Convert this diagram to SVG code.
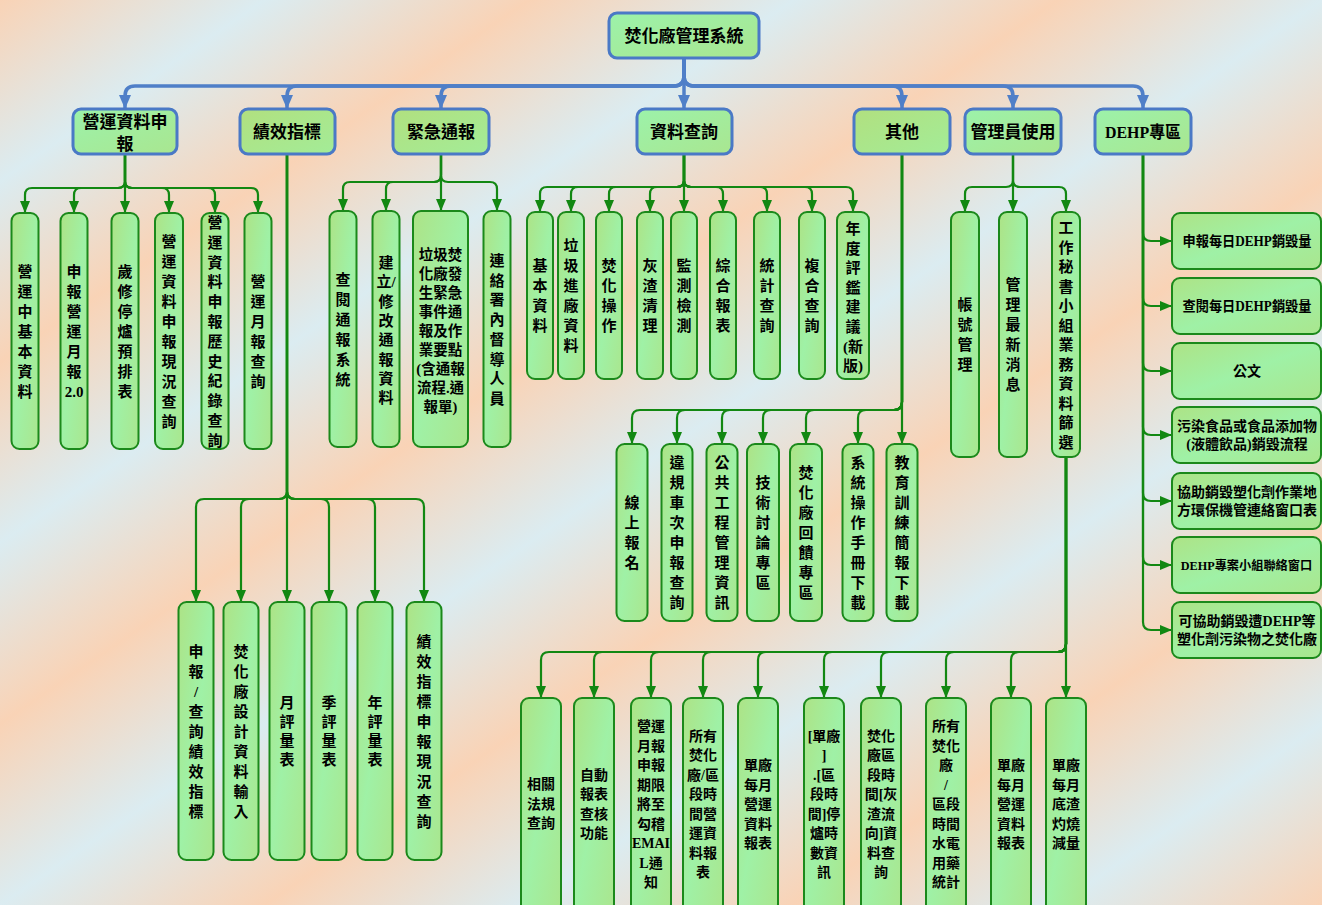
<svg xmlns="http://www.w3.org/2000/svg" width="1322" height="905" viewBox="0 0 1322 905">
<defs>
  <linearGradient id="bg" x1="0" y1="0" x2="0.2" y2="0.2" spreadMethod="repeat">
    <stop offset="0" stop-color="#f9d3b6"/>
    <stop offset="0.5" stop-color="#dbecf1"/>
    <stop offset="1" stop-color="#f9d3b6"/>
  </linearGradient>
  <linearGradient id="gMint" x1="0" y1="0" x2="1" y2="1">
    <stop offset="0" stop-color="#9cf2aa"/>
    <stop offset="1" stop-color="#a9e690"/>
  </linearGradient>
  <linearGradient id="gLime" x1="0" y1="0" x2="1" y2="1">
    <stop offset="0" stop-color="#b1e07f"/>
    <stop offset="1" stop-color="#a3ec98"/>
  </linearGradient>
  <linearGradient id="gBox" x1="0" y1="0" x2="1" y2="1">
    <stop offset="0" stop-color="#ade386"/>
    <stop offset="0.5" stop-color="#9ff1a6"/>
    <stop offset="1" stop-color="#aae68e"/>
  </linearGradient>
  <marker id="ab" viewBox="0 0 14 12" refX="13" refY="6" markerWidth="14" markerHeight="12" markerUnits="userSpaceOnUse" orient="auto">
    <path d="M0,0 L14,6 L0,12 z" fill="#4f7fc8"/>
  </marker>
  <marker id="ag" viewBox="0 0 12 10" refX="11" refY="5" markerWidth="12" markerHeight="10" markerUnits="userSpaceOnUse" orient="auto">
    <path d="M0,0 L12,5 L0,10 z" fill="#128812"/>
  </marker>
</defs>
<style>
  .l1 { fill: url(#gMint); stroke: #4a79c6; stroke-width: 3; }
  .l1y { fill: url(#gLime); stroke: #4a79c6; stroke-width: 3; }
  .bx { fill: url(#gBox); stroke: #1b891b; stroke-width: 2; }
  .cb { fill: none; stroke: #4f7fc8; stroke-width: 3.5; marker-end: url(#ab); }
  .cg { fill: none; stroke: #128812; stroke-width: 2.2; marker-end: url(#ag); }
  text { font-family: "Liberation Serif", "Noto Sans CJK TC", sans-serif; font-weight: 700; fill: #000; text-anchor: middle; }
  .t17 { font-size: 17px; }
  .t15 { font-size: 15px; }
  .t145 { font-size: 14.5px; }
  .t14 { font-size: 14px; }
  .t12 { font-size: 12.2px; }
</style>

<rect x="0" y="0" width="1322" height="905" fill="url(#bg)"/>

<!-- connectors -->
<g id="connectors">
  <!-- root to sections -->
  <path class="cb" d="M684,59 V76 Q684,86 674,86 H135 Q125,86 125,96 V108"/>
  <path class="cb" d="M684,59 V76 Q684,86 674,86 H297 Q287,86 287,96 V108"/>
  <path class="cb" d="M684,59 V76 Q684,86 674,86 H451 Q441,86 441,96 V108"/>
  <path class="cb" d="M684,59 V108"/>
  <path class="cb" d="M684,59 V76 Q684,86 694,86 H892 Q902,86 902,96 V108"/>
  <path class="cb" d="M684,59 V76 Q684,86 694,86 H1003 Q1013,86 1013,96 V108"/>
  <path class="cb" d="M684,59 V76 Q684,86 694,86 H1133 Q1143,86 1143,96 V108"/>

  <!-- 營運資料申報 -->
  <path class="cg" d="M125,155 V181 Q125,188 118,188 H32 Q25,188 25,195 V212"/>
  <path class="cg" d="M125,155 V181 Q125,188 118,188 H81 Q74,188 74,195 V212"/>
  <path class="cg" d="M125,155 V212"/>
  <path class="cg" d="M125,155 V181 Q125,188 132,188 H162 Q169,188 169,195 V212"/>
  <path class="cg" d="M125,155 V181 Q125,188 132,188 H208 Q215,188 215,195 V212"/>
  <path class="cg" d="M125,155 V181 Q125,188 132,188 H251 Q258,188 258,195 V212"/>

  <!-- 緊急通報 -->
  <path class="cg" d="M441,155 V175 Q441,182 434,182 H350 Q343,182 343,189 V210"/>
  <path class="cg" d="M441,155 V175 Q441,182 434,182 H393 Q386,182 386,189 V210"/>
  <path class="cg" d="M441,155 V210"/>
  <path class="cg" d="M441,155 V175 Q441,182 448,182 H490 Q497,182 497,189 V210"/>

  <!-- 績效指標 -->
  <path class="cg" d="M287,155 V491 Q287,499 279,499 H204 Q196,499 196,507 V601"/>
  <path class="cg" d="M287,155 V491 Q287,499 279,499 H249 Q241,499 241,507 V601"/>
  <path class="cg" d="M287,155 V601"/>
  <path class="cg" d="M287,155 V491 Q287,499 295,499 H321 Q329,499 329,507 V601"/>
  <path class="cg" d="M287,155 V491 Q287,499 295,499 H367 Q375,499 375,507 V601"/>
  <path class="cg" d="M287,155 V491 Q287,499 295,499 H416 Q424,499 424,507 V601"/>

  <!-- 資料查詢 -->
  <path class="cg" d="M684,155 V180 Q684,187 677,187 H547 Q540,187 540,194 V211"/>
  <path class="cg" d="M684,155 V180 Q684,187 677,187 H578 Q571,187 571,194 V211"/>
  <path class="cg" d="M684,155 V180 Q684,187 677,187 H616 Q609,187 609,194 V211"/>
  <path class="cg" d="M684,155 V180 Q684,187 677,187 H657 Q650,187 650,194 V211"/>
  <path class="cg" d="M684,155 V211"/>
  <path class="cg" d="M684,155 V180 Q684,187 691,187 H716 Q723,187 723,194 V211"/>
  <path class="cg" d="M684,155 V180 Q684,187 691,187 H760 Q767,187 767,194 V211"/>
  <path class="cg" d="M684,155 V180 Q684,187 691,187 H805 Q812,187 812,194 V211"/>
  <path class="cg" d="M684,155 V180 Q684,187 691,187 H846 Q853,187 853,194 V211"/>

  <!-- 其他 -->
  <path class="cg" d="M902,155 V402 Q902,410 894,410 H640 Q632,410 632,418 V443"/>
  <path class="cg" d="M902,155 V402 Q902,410 894,410 H685 Q677,410 677,418 V443"/>
  <path class="cg" d="M902,155 V402 Q902,410 894,410 H730 Q722,410 722,418 V443"/>
  <path class="cg" d="M902,155 V402 Q902,410 894,410 H771 Q763,410 763,418 V443"/>
  <path class="cg" d="M902,155 V402 Q902,410 894,410 H814 Q806,410 806,418 V443"/>
  <path class="cg" d="M902,155 V402 Q902,410 894,410 H866 Q858,410 858,418 V443"/>
  <path class="cg" d="M902,155 V443"/>

  <!-- 管理員使用 -->
  <path class="cg" d="M1013,155 V180 Q1013,187 1006,187 H972 Q965,187 965,194 V211"/>
  <path class="cg" d="M1013,155 V211"/>
  <path class="cg" d="M1013,155 V180 Q1013,187 1020,187 H1059 Q1066,187 1066,194 V211"/>

  <!-- 工作秘書小組業務資料篩選 -->
  <path class="cg" d="M1066,458 V644 Q1066,652 1058,652 H549 Q541,652 541,660 V697"/>
  <path class="cg" d="M1066,458 V644 Q1066,652 1058,652 H602 Q594,652 594,660 V697"/>
  <path class="cg" d="M1066,458 V644 Q1066,652 1058,652 H659 Q651,652 651,660 V697"/>
  <path class="cg" d="M1066,458 V644 Q1066,652 1058,652 H711 Q703,652 703,660 V697"/>
  <path class="cg" d="M1066,458 V644 Q1066,652 1058,652 H766 Q758,652 758,660 V697"/>
  <path class="cg" d="M1066,458 V644 Q1066,652 1058,652 H832 Q824,652 824,660 V697"/>
  <path class="cg" d="M1066,458 V644 Q1066,652 1058,652 H889 Q881,652 881,660 V697"/>
  <path class="cg" d="M1066,458 V644 Q1066,652 1058,652 H954 Q946,652 946,660 V697"/>
  <path class="cg" d="M1066,458 V644 Q1066,652 1058,652 H1019 Q1011,652 1011,660 V697"/>
  <path class="cg" d="M1066,458 V697"/>

  <!-- DEHP專區 -->
  <path class="cg" d="M1143,155 V233 Q1143,241 1151,241 H1171"/>
  <path class="cg" d="M1143,155 V298 Q1143,306 1151,306 H1171"/>
  <path class="cg" d="M1143,155 V363 Q1143,371 1151,371 H1171"/>
  <path class="cg" d="M1143,155 V427 Q1143,435 1151,435 H1171"/>
  <path class="cg" d="M1143,155 V493 Q1143,501 1151,501 H1171"/>
  <path class="cg" d="M1143,155 V557 Q1143,565 1151,565 H1171"/>
  <path class="cg" d="M1143,155 V622 Q1143,630 1151,630 H1171"/>
</g>

<!-- root -->
<g id="n-root">
  <rect class="l1" x="609" y="13" width="150" height="45" rx="8"/>
  <text class="t17" x="684" y="42">焚化廠管理系統</text>
</g>

<!-- sections -->
<g id="n-ops">
  <rect class="l1" x="73" y="109" width="104" height="45" rx="8"/>
  <text class="t17" x="125" y="128">營運資料申<tspan x="125" dy="22">報</tspan></text>
</g>
<g id="n-kpi">
  <rect class="l1y" x="240" y="109" width="95" height="45" rx="8"/>
  <text class="t17" x="287" y="138">績效指標</text>
</g>
<g id="n-alert">
  <rect class="l1y" x="393" y="109" width="96" height="45" rx="8"/>
  <text class="t17" x="441" y="138">緊急通報</text>
</g>
<g id="n-query">
  <rect class="l1" x="637" y="109" width="95" height="45" rx="8"/>
  <text class="t17" x="684" y="138">資料查詢</text>
</g>
<g id="n-other">
  <rect class="l1y" x="854" y="109" width="96" height="45" rx="8"/>
  <text class="t17" x="902" y="138">其他</text>
</g>
<g id="n-admin">
  <rect class="l1" x="965" y="109" width="96" height="45" rx="8"/>
  <text class="t17" x="1013" y="138">管理員使用</text>
</g>
<g id="n-dehp">
  <rect class="l1" x="1095" y="109" width="96" height="45" rx="8"/>
  <text class="t17" x="1143" y="138" textLength="76" lengthAdjust="spacingAndGlyphs">DEHP專區</text>
</g>

<!-- 營運資料申報 children -->
<g id="n-ops-basic">
  <rect class="bx" x="11.5" y="213" width="27" height="236" rx="8"/>
  <text class="t15" x="25" y="277">營<tspan x="25" dy="20">運</tspan><tspan x="25" dy="20">中</tspan><tspan x="25" dy="20">基</tspan><tspan x="25" dy="20">本</tspan><tspan x="25" dy="20">資</tspan><tspan x="25" dy="20">料</tspan></text>
</g>
<g id="n-ops-monthly2">
  <rect class="bx" x="60.5" y="213" width="27" height="236" rx="8"/>
  <text class="t15" x="74" y="277">申<tspan x="74" dy="20">報</tspan><tspan x="74" dy="20">營</tspan><tspan x="74" dy="20">運</tspan><tspan x="74" dy="20">月</tspan><tspan x="74" dy="20">報</tspan><tspan x="74" dy="20">2.0</tspan></text>
</g>
<g id="n-ops-outage">
  <rect class="bx" x="111.5" y="213" width="27" height="236" rx="8"/>
  <text class="t15" x="125" y="277">歲<tspan x="125" dy="20">修</tspan><tspan x="125" dy="20">停</tspan><tspan x="125" dy="20">爐</tspan><tspan x="125" dy="20">預</tspan><tspan x="125" dy="20">排</tspan><tspan x="125" dy="20">表</tspan></text>
</g>
<g id="n-ops-status">
  <rect class="bx" x="155" y="213" width="28" height="236" rx="8"/>
  <text class="t15" x="169" y="247">營<tspan x="169" dy="20">運</tspan><tspan x="169" dy="20">資</tspan><tspan x="169" dy="20">料</tspan><tspan x="169" dy="20">申</tspan><tspan x="169" dy="20">報</tspan><tspan x="169" dy="20">現</tspan><tspan x="169" dy="20">況</tspan><tspan x="169" dy="20">查</tspan><tspan x="169" dy="20">詢</tspan></text>
</g>
<g id="n-ops-history">
  <rect class="bx" x="201.5" y="213" width="27" height="236" rx="8"/>
  <text class="t15" x="215" y="228">營<tspan x="215" dy="19.8">運</tspan><tspan x="215" dy="19.8">資</tspan><tspan x="215" dy="19.8">料</tspan><tspan x="215" dy="19.8">申</tspan><tspan x="215" dy="19.8">報</tspan><tspan x="215" dy="19.8">歷</tspan><tspan x="215" dy="19.8">史</tspan><tspan x="215" dy="19.8">紀</tspan><tspan x="215" dy="19.8">錄</tspan><tspan x="215" dy="19.8">查</tspan><tspan x="215" dy="19.8">詢</tspan></text>
</g>
<g id="n-ops-monthq">
  <rect class="bx" x="244.5" y="213" width="27" height="236" rx="8"/>
  <text class="t15" x="258" y="287">營<tspan x="258" dy="20">運</tspan><tspan x="258" dy="20">月</tspan><tspan x="258" dy="20">報</tspan><tspan x="258" dy="20">查</tspan><tspan x="258" dy="20">詢</tspan></text>
</g>

<!-- 緊急通報 children -->
<g id="n-alert-view">
  <rect class="bx" x="329.5" y="211" width="27" height="236" rx="8"/>
  <text class="t15" x="343" y="285">查<tspan x="343" dy="20">閱</tspan><tspan x="343" dy="20">通</tspan><tspan x="343" dy="20">報</tspan><tspan x="343" dy="20">系</tspan><tspan x="343" dy="20">統</tspan></text>
</g>
<g id="n-alert-edit">
  <rect class="bx" x="372.5" y="211" width="27" height="236" rx="8"/>
  <text class="t15" x="386" y="268">建<tspan x="386" dy="19.3">立/</tspan><tspan x="386" dy="19.3">修</tspan><tspan x="386" dy="19.3">改</tspan><tspan x="386" dy="19.3">通</tspan><tspan x="386" dy="19.3">報</tspan><tspan x="386" dy="19.3">資</tspan><tspan x="386" dy="19.3">料</tspan></text>
</g>
<g id="n-alert-rules">
  <rect class="bx" x="413" y="211" width="55" height="236" rx="8"/>
  <text class="t145" x="440.5" y="260">垃圾焚<tspan x="440.5" dy="19">化廠發</tspan><tspan x="440.5" dy="19">生緊急</tspan><tspan x="440.5" dy="19">事件通</tspan><tspan x="440.5" dy="19">報及作</tspan><tspan x="440.5" dy="19">業要點</tspan><tspan x="440.5" dy="19">(含通報</tspan><tspan x="440.5" dy="19">流程.通</tspan><tspan x="440.5" dy="19">報單)</tspan></text>
</g>
<g id="n-alert-contact">
  <rect class="bx" x="483.5" y="211" width="27" height="236" rx="8"/>
  <text class="t15" x="497" y="266">連<tspan x="497" dy="19.7">絡</tspan><tspan x="497" dy="19.7">署</tspan><tspan x="497" dy="19.7">內</tspan><tspan x="497" dy="19.7">督</tspan><tspan x="497" dy="19.7">導</tspan><tspan x="497" dy="19.7">人</tspan><tspan x="497" dy="19.7">員</tspan></text>
</g>

<!-- 績效指標 children -->
<g id="n-kpi-report">
  <rect class="bx" x="178.5" y="602" width="35" height="258" rx="8"/>
  <text class="t15" x="196" y="657">申<tspan x="196" dy="20">報</tspan><tspan x="196" dy="20">/</tspan><tspan x="196" dy="20">查</tspan><tspan x="196" dy="20">詢</tspan><tspan x="196" dy="20">績</tspan><tspan x="196" dy="20">效</tspan><tspan x="196" dy="20">指</tspan><tspan x="196" dy="20">標</tspan></text>
</g>
<g id="n-kpi-design">
  <rect class="bx" x="223.5" y="602" width="35" height="258" rx="8"/>
  <text class="t15" x="241" y="657">焚<tspan x="241" dy="20">化</tspan><tspan x="241" dy="20">廠</tspan><tspan x="241" dy="20">設</tspan><tspan x="241" dy="20">計</tspan><tspan x="241" dy="20">資</tspan><tspan x="241" dy="20">料</tspan><tspan x="241" dy="20">輸</tspan><tspan x="241" dy="20">入</tspan></text>
</g>
<g id="n-kpi-month">
  <rect class="bx" x="269.5" y="602" width="35" height="258" rx="8"/>
  <text class="t15" x="287" y="708">月<tspan x="287" dy="19">評</tspan><tspan x="287" dy="19">量</tspan><tspan x="287" dy="19">表</tspan></text>
</g>
<g id="n-kpi-season">
  <rect class="bx" x="311.5" y="602" width="35" height="258" rx="8"/>
  <text class="t15" x="329" y="708">季<tspan x="329" dy="19">評</tspan><tspan x="329" dy="19">量</tspan><tspan x="329" dy="19">表</tspan></text>
</g>
<g id="n-kpi-year">
  <rect class="bx" x="357.5" y="602" width="35" height="258" rx="8"/>
  <text class="t15" x="375" y="708">年<tspan x="375" dy="19">評</tspan><tspan x="375" dy="19">量</tspan><tspan x="375" dy="19">表</tspan></text>
</g>
<g id="n-kpi-status">
  <rect class="bx" x="406.5" y="602" width="35" height="258" rx="8"/>
  <text class="t15" x="424" y="647">績<tspan x="424" dy="20">效</tspan><tspan x="424" dy="20">指</tspan><tspan x="424" dy="20">標</tspan><tspan x="424" dy="20">申</tspan><tspan x="424" dy="20">報</tspan><tspan x="424" dy="20">現</tspan><tspan x="424" dy="20">況</tspan><tspan x="424" dy="20">查</tspan><tspan x="424" dy="20">詢</tspan></text>
</g>

<!-- 資料查詢 children -->
<g id="n-q-basic">
  <rect class="bx" x="527" y="212" width="26" height="167" rx="8"/>
  <text class="t15" x="540" y="271">基<tspan x="540" dy="20">本</tspan><tspan x="540" dy="20">資</tspan><tspan x="540" dy="20">料</tspan></text>
</g>
<g id="n-q-intake">
  <rect class="bx" x="558" y="212" width="26" height="167" rx="8"/>
  <text class="t15" x="571" y="251">垃<tspan x="571" dy="20">圾</tspan><tspan x="571" dy="20">進</tspan><tspan x="571" dy="20">廠</tspan><tspan x="571" dy="20">資</tspan><tspan x="571" dy="20">料</tspan></text>
</g>
<g id="n-q-operate">
  <rect class="bx" x="596" y="212" width="26" height="167" rx="8"/>
  <text class="t15" x="609" y="271">焚<tspan x="609" dy="20">化</tspan><tspan x="609" dy="20">操</tspan><tspan x="609" dy="20">作</tspan></text>
</g>
<g id="n-q-ash">
  <rect class="bx" x="637" y="212" width="26" height="167" rx="8"/>
  <text class="t15" x="650" y="271">灰<tspan x="650" dy="20">渣</tspan><tspan x="650" dy="20">清</tspan><tspan x="650" dy="20">理</tspan></text>
</g>
<g id="n-q-monitor">
  <rect class="bx" x="671" y="212" width="26" height="167" rx="8"/>
  <text class="t15" x="684" y="271">監<tspan x="684" dy="20">測</tspan><tspan x="684" dy="20">檢</tspan><tspan x="684" dy="20">測</tspan></text>
</g>
<g id="n-q-report">
  <rect class="bx" x="710" y="212" width="26" height="167" rx="8"/>
  <text class="t15" x="723" y="271">綜<tspan x="723" dy="20">合</tspan><tspan x="723" dy="20">報</tspan><tspan x="723" dy="20">表</tspan></text>
</g>
<g id="n-q-stats">
  <rect class="bx" x="754" y="212" width="26" height="167" rx="8"/>
  <text class="t15" x="767" y="271">統<tspan x="767" dy="20">計</tspan><tspan x="767" dy="20">查</tspan><tspan x="767" dy="20">詢</tspan></text>
</g>
<g id="n-q-combo">
  <rect class="bx" x="799" y="212" width="26" height="167" rx="8"/>
  <text class="t15" x="812" y="271">複<tspan x="812" dy="20">合</tspan><tspan x="812" dy="20">查</tspan><tspan x="812" dy="20">詢</tspan></text>
</g>
<g id="n-q-annual">
  <rect class="bx" x="837" y="212" width="32" height="167" rx="8"/>
  <text class="t15" x="853" y="234">年<tspan x="853" dy="19.6">度</tspan><tspan x="853" dy="19.6">評</tspan><tspan x="853" dy="19.6">鑑</tspan><tspan x="853" dy="19.6">建</tspan><tspan x="853" dy="19.6">議</tspan><tspan x="853" dy="19.6">(新</tspan><tspan x="853" dy="19.6">版)</tspan></text>
</g>

<!-- 其他 children -->
<g id="n-o-signup">
  <rect class="bx" x="616.5" y="444" width="31" height="177" rx="8"/>
  <text class="t15" x="632" y="508">線<tspan x="632" dy="20">上</tspan><tspan x="632" dy="20">報</tspan><tspan x="632" dy="20">名</tspan></text>
</g>
<g id="n-o-violation">
  <rect class="bx" x="661.5" y="444" width="31" height="177" rx="8"/>
  <text class="t15" x="677" y="468">違<tspan x="677" dy="20">規</tspan><tspan x="677" dy="20">車</tspan><tspan x="677" dy="20">次</tspan><tspan x="677" dy="20">申</tspan><tspan x="677" dy="20">報</tspan><tspan x="677" dy="20">查</tspan><tspan x="677" dy="20">詢</tspan></text>
</g>
<g id="n-o-public">
  <rect class="bx" x="706.5" y="444" width="31" height="177" rx="8"/>
  <text class="t15" x="722" y="468">公<tspan x="722" dy="20">共</tspan><tspan x="722" dy="20">工</tspan><tspan x="722" dy="20">程</tspan><tspan x="722" dy="20">管</tspan><tspan x="722" dy="20">理</tspan><tspan x="722" dy="20">資</tspan><tspan x="722" dy="20">訊</tspan></text>
</g>
<g id="n-o-tech">
  <rect class="bx" x="747" y="444" width="32" height="177" rx="8"/>
  <text class="t15" x="763" y="488">技<tspan x="763" dy="20">術</tspan><tspan x="763" dy="20">討</tspan><tspan x="763" dy="20">論</tspan><tspan x="763" dy="20">專</tspan><tspan x="763" dy="20">區</tspan></text>
</g>
<g id="n-o-feedback">
  <rect class="bx" x="790" y="444" width="32" height="177" rx="8"/>
  <text class="t15" x="806" y="478">焚<tspan x="806" dy="20">化</tspan><tspan x="806" dy="20">廠</tspan><tspan x="806" dy="20">回</tspan><tspan x="806" dy="20">饋</tspan><tspan x="806" dy="20">專</tspan><tspan x="806" dy="20">區</tspan></text>
</g>
<g id="n-o-manual">
  <rect class="bx" x="842.5" y="444" width="31" height="177" rx="8"/>
  <text class="t15" x="858" y="468">系<tspan x="858" dy="20">統</tspan><tspan x="858" dy="20">操</tspan><tspan x="858" dy="20">作</tspan><tspan x="858" dy="20">手</tspan><tspan x="858" dy="20">冊</tspan><tspan x="858" dy="20">下</tspan><tspan x="858" dy="20">載</tspan></text>
</g>
<g id="n-o-training">
  <rect class="bx" x="886.5" y="444" width="31" height="177" rx="8"/>
  <text class="t15" x="902" y="468">教<tspan x="902" dy="20">育</tspan><tspan x="902" dy="20">訓</tspan><tspan x="902" dy="20">練</tspan><tspan x="902" dy="20">簡</tspan><tspan x="902" dy="20">報</tspan><tspan x="902" dy="20">下</tspan><tspan x="902" dy="20">載</tspan></text>
</g>

<!-- 管理員使用 children -->
<g id="n-a-account">
  <rect class="bx" x="951" y="212" width="28" height="245" rx="8"/>
  <text class="t15" x="965" y="310">帳<tspan x="965" dy="20">號</tspan><tspan x="965" dy="20">管</tspan><tspan x="965" dy="20">理</tspan></text>
</g>
<g id="n-a-news">
  <rect class="bx" x="999" y="212" width="28" height="245" rx="8"/>
  <text class="t15" x="1013" y="290">管<tspan x="1013" dy="20">理</tspan><tspan x="1013" dy="20">最</tspan><tspan x="1013" dy="20">新</tspan><tspan x="1013" dy="20">消</tspan><tspan x="1013" dy="20">息</tspan></text>
</g>
<g id="n-a-secretary">
  <rect class="bx" x="1052" y="212" width="28" height="245" rx="8"/>
  <text class="t15" x="1066" y="233">工<tspan x="1066" dy="19.5">作</tspan><tspan x="1066" dy="19.5">秘</tspan><tspan x="1066" dy="19.5">書</tspan><tspan x="1066" dy="19.5">小</tspan><tspan x="1066" dy="19.5">組</tspan><tspan x="1066" dy="19.5">業</tspan><tspan x="1066" dy="19.5">務</tspan><tspan x="1066" dy="19.5">資</tspan><tspan x="1066" dy="19.5">料</tspan><tspan x="1066" dy="19.5">篩</tspan><tspan x="1066" dy="19.5">選</tspan></text>
</g>

<!-- 工作秘書小組業務資料篩選 children -->
<g id="n-s-laws">
  <rect class="bx" x="521" y="698" width="40" height="214" rx="8"/>
  <text class="t14" x="541" y="789">相關<tspan x="541" dy="19.5">法規</tspan><tspan x="541" dy="19.5">查詢</tspan></text>
</g>
<g id="n-s-audit">
  <rect class="bx" x="574" y="698" width="40" height="214" rx="8"/>
  <text class="t14" x="594" y="779.5">自動<tspan x="594" dy="19.5">報表</tspan><tspan x="594" dy="19.5">查核</tspan><tspan x="594" dy="19.5">功能</tspan></text>
</g>
<g id="n-s-email">
  <rect class="bx" x="631" y="698" width="40" height="214" rx="8"/>
  <text class="t14" x="651" y="731">營運<tspan x="651" dy="19.5">月報</tspan><tspan x="651" dy="19.5">申報</tspan><tspan x="651" dy="19.5">期限</tspan><tspan x="651" dy="19.5">將至</tspan><tspan x="651" dy="19.5">勾稽</tspan><tspan x="651" dy="19.5">EMAI</tspan><tspan x="651" dy="19.5">L通</tspan><tspan x="651" dy="19.5">知</tspan></text>
</g>
<g id="n-s-allops">
  <rect class="bx" x="683" y="698" width="40" height="214" rx="8"/>
  <text class="t14" x="703" y="740.5">所有<tspan x="703" dy="19.5">焚化</tspan><tspan x="703" dy="19.5">廠/區</tspan><tspan x="703" dy="19.5">段時</tspan><tspan x="703" dy="19.5">間營</tspan><tspan x="703" dy="19.5">運資</tspan><tspan x="703" dy="19.5">料報</tspan><tspan x="703" dy="19.5">表</tspan></text>
</g>
<g id="n-s-single1">
  <rect class="bx" x="738" y="698" width="40" height="214" rx="8"/>
  <text class="t14" x="758" y="770">單廠<tspan x="758" dy="19.5">每月</tspan><tspan x="758" dy="19.5">營運</tspan><tspan x="758" dy="19.5">資料</tspan><tspan x="758" dy="19.5">報表</tspan></text>
</g>
<g id="n-s-downtime">
  <rect class="bx" x="804" y="698" width="40" height="214" rx="8"/>
  <text class="t14" x="824" y="740.5">[單廠<tspan x="824" dy="19.5">]</tspan><tspan x="824" dy="19.5">.[區</tspan><tspan x="824" dy="19.5">段時</tspan><tspan x="824" dy="19.5">間]停</tspan><tspan x="824" dy="19.5">爐時</tspan><tspan x="824" dy="19.5">數資</tspan><tspan x="824" dy="19.5">訊</tspan></text>
</g>
<g id="n-s-ashflow">
  <rect class="bx" x="861" y="698" width="40" height="214" rx="8"/>
  <text class="t14" x="881" y="740.5">焚化<tspan x="881" dy="19.5">廠區</tspan><tspan x="881" dy="19.5">段時</tspan><tspan x="881" dy="19.5">間[灰</tspan><tspan x="881" dy="19.5">渣流</tspan><tspan x="881" dy="19.5">向]資</tspan><tspan x="881" dy="19.5">料查</tspan><tspan x="881" dy="19.5">詢</tspan></text>
</g>
<g id="n-s-utility">
  <rect class="bx" x="926" y="698" width="40" height="214" rx="8"/>
  <text class="t14" x="946" y="731">所有<tspan x="946" dy="19.5">焚化</tspan><tspan x="946" dy="19.5">廠</tspan><tspan x="946" dy="19.5">/</tspan><tspan x="946" dy="19.5">區段</tspan><tspan x="946" dy="19.5">時間</tspan><tspan x="946" dy="19.5">水電</tspan><tspan x="946" dy="19.5">用藥</tspan><tspan x="946" dy="19.5">統計</tspan></text>
</g>
<g id="n-s-single2">
  <rect class="bx" x="991" y="698" width="40" height="214" rx="8"/>
  <text class="t14" x="1011" y="770">單廠<tspan x="1011" dy="19.5">每月</tspan><tspan x="1011" dy="19.5">營運</tspan><tspan x="1011" dy="19.5">資料</tspan><tspan x="1011" dy="19.5">報表</tspan></text>
</g>
<g id="n-s-loi">
  <rect class="bx" x="1046" y="698" width="40" height="214" rx="8"/>
  <text class="t14" x="1066" y="770">單廠<tspan x="1066" dy="19.5">每月</tspan><tspan x="1066" dy="19.5">底渣</tspan><tspan x="1066" dy="19.5">灼燒</tspan><tspan x="1066" dy="19.5">減量</tspan></text>
</g>

<!-- DEHP專區 children -->
<g id="n-d-report">
  <rect class="bx" x="1172" y="213" width="149" height="56" rx="8"/>
  <text class="t14" x="1247" y="246" textLength="129" lengthAdjust="spacingAndGlyphs">申報每日DEHP銷毀量</text>
</g>
<g id="n-d-view">
  <rect class="bx" x="1172" y="278" width="149" height="56" rx="8"/>
  <text class="t14" x="1247" y="311" textLength="129" lengthAdjust="spacingAndGlyphs">查閱每日DEHP銷毀量</text>
</g>
<g id="n-d-docs">
  <rect class="bx" x="1172" y="343" width="149" height="56" rx="8"/>
  <text class="t14" x="1247" y="376">公文</text>
</g>
<g id="n-d-food">
  <rect class="bx" x="1172" y="407" width="149" height="56" rx="8"/>
  <text class="t14" x="1247" y="431">污染食品或食品添加物<tspan x="1247" dy="18">(液體飲品)銷毀流程</tspan></text>
</g>
<g id="n-d-local">
  <rect class="bx" x="1172" y="473" width="149" height="56" rx="8"/>
  <text class="t14" x="1247" y="497">協助銷毀塑化劑作業地<tspan x="1247" dy="18">方環保機管連絡窗口表</tspan></text>
</g>
<g id="n-d-team">
  <rect class="bx" x="1172" y="537" width="149" height="56" rx="8"/>
  <text class="t12" x="1246.5" y="569.5">DEHP專案小組聯絡窗口</text>
</g>
<g id="n-d-plants">
  <rect class="bx" x="1172" y="602" width="149" height="56" rx="8"/>
  <text class="t14" x="1247" y="626">可協助銷毀遭DEHP等<tspan x="1247" dy="18">塑化劑污染物之焚化廠</tspan></text>
</g>
</svg>
